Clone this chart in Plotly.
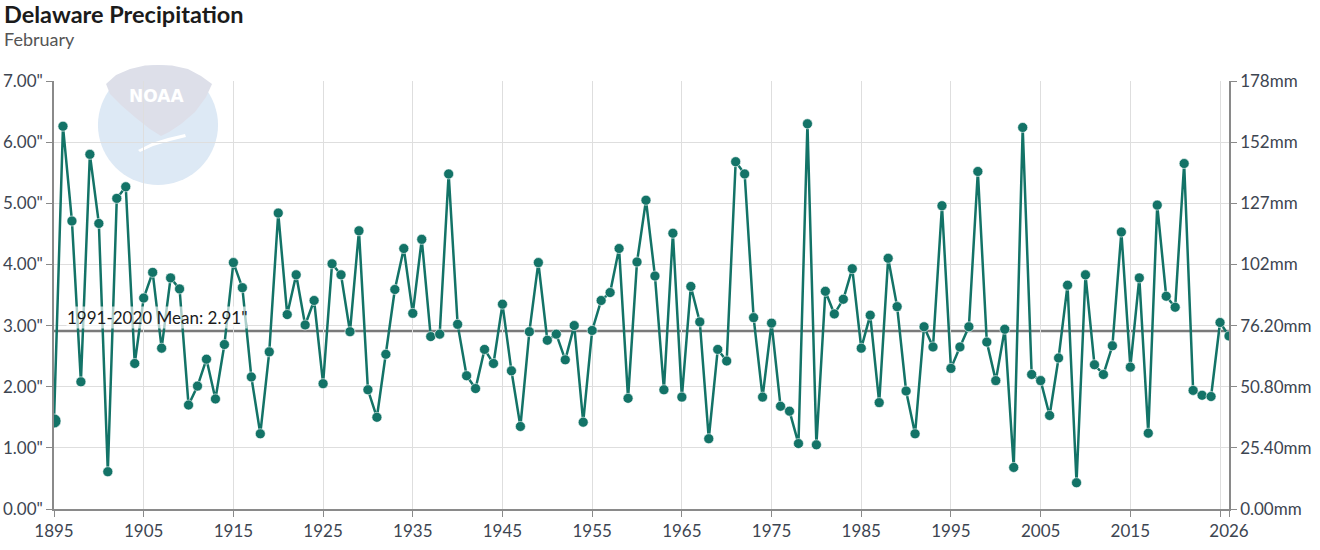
import math
import plotly.graph_objects as go

# February precipitation, Delaware (inches)
years = list(range(1895, 2027))
precip = [
    1.44, 6.26, 4.71, 2.08, 5.80, 4.67, 0.61, 5.08, 5.27, 2.38,
    3.45, 3.87, 2.63, 3.78, 3.60, 1.70, 2.01, 2.45, 1.80, 2.69,
    4.03, 3.62, 2.16, 1.23, 2.57, 4.84, 3.18, 3.83, 3.01, 3.41,
    2.05, 4.01, 3.83, 2.90, 4.55, 1.95, 1.50, 2.53, 3.59, 4.26,
    3.20, 4.41, 2.82, 2.86, 5.48, 3.02, 2.18, 1.97, 2.61, 2.38,
    3.35, 2.26, 1.35, 2.90, 4.03, 2.76, 2.86, 2.44, 3.00, 1.42,
    2.92, 3.41, 3.54, 4.26, 1.81, 4.04, 5.05, 3.81, 1.95, 4.51,
    1.83, 3.64, 3.06, 1.15, 2.61, 2.42, 5.68, 5.48, 3.13, 1.83,
    3.04, 1.68, 1.60, 1.07, 6.30, 1.05, 3.56, 3.19, 3.43, 3.93,
    2.63, 3.17, 1.74, 4.10, 3.31, 1.93, 1.23, 2.98, 2.65, 4.96,
    2.30, 2.65, 2.98, 5.52, 2.73, 2.10, 2.94, 0.68, 6.24, 2.20,
    2.10, 1.53, 2.47, 3.66, 0.43, 3.83, 2.36, 2.20, 2.67, 4.53,
    2.32, 3.78, 1.24, 4.97, 3.48, 3.30, 5.65, 1.94, 1.86, 1.84,
    3.05, 2.83,
]
mean_value = 2.91
mean_label = '1991-2020 Mean: 2.91"'

x_tickvals = list(range(1895, 2026, 10)) + [2026]
x_ticktext = [str(v) for v in range(1895, 2016, 10)] + ["", "2026"]
y_tickvals = [0, 1, 2, 3, 4, 5, 6, 7]
inch_ticktext = ['0.00"', '1.00"', '2.00"', '3.00"', '4.00"', '5.00"', '6.00"', '7.00"']
mm_ticktext = ["0.00mm", "25.40mm", "50.80mm", "76.20mm", "102mm", "127mm", "152mm", "178mm"]

LINE = "#137367"
AXIS = "#8a8a8a"
GRID = "#dedede"
TICK_FONT = dict(size=17, color="#3d4551")
FONT = "Lato, 'Source Sans Pro', sans-serif"

W, H = 1320, 550
M = dict(l=54, r=91, t=81, b=41)
PW = W - M["l"] - M["r"]
PH = H - M["t"] - M["b"]


def px(x, y):
    # page pixel -> paper fraction (watermark / titles only)
    return (x - M["l"]) / PW, (H - M["b"] - y) / PH


def path(points):
    out = []
    for i, (x, y) in enumerate(points):
        a, b = px(x, y)
        out.append(("M " if i == 0 else "L ") + f"{a:.4f},{b:.4f}")
    return " ".join(out) + " Z"


# NOAA watermark: disc, gull shape, white swoosh
disc = [(158 + 60 * math.cos(t * math.pi / 36), 125 + 60 * math.sin(t * math.pi / 36)) for t in range(72)]
gull = [(106, 84), (116, 75), (130, 69), (145, 65.5), (158, 65), (172, 65.5), (188, 69), (201, 76),
        (212, 84), (206, 97), (195, 112), (181, 124), (169, 132), (161, 136), (150, 129),
        (136, 118), (121, 105), (110, 94)]
swoosh = [(138, 150), (152, 143), (168, 138), (185, 134), (186, 137), (170, 141), (153, 146), (140, 152)]
shapes = [
    dict(type="path", xref="paper", yref="paper", layer="below",
         fillcolor="#dde9f5", line=dict(width=0), path=path(disc)),
    dict(type="path", xref="paper", yref="paper", layer="below",
         fillcolor="#dddfe9", line=dict(width=0), path=path(gull)),
    dict(type="path", xref="paper", yref="paper", layer="below",
         fillcolor="#ffffff", line=dict(width=0), path=path(swoosh)),
]

fig = go.Figure()

fig.add_trace(go.Scatter(
    x=years, y=precip, mode="lines+markers",
    line=dict(color=LINE, width=2.5),
    marker=dict(color=LINE, opacity=1, size=[14] + [10] * (len(years) - 1),
                line=dict(color="white", width=0.6)),
    showlegend=False,
    hovertemplate="%{x}: %{y:.2f}\"<extra></extra>",
))
# keeps the mm axis drawn
fig.add_trace(go.Scatter(x=[years[0]], y=[None], yaxis="y2", showlegend=False, hoverinfo="skip"))

tx, ty = px(4, 1)
sx, sy = px(4, 28)
nx, ny = px(156, 96)

axis_common = dict(
    zeroline=False, showline=True, linecolor=AXIS, linewidth=1.5,
    ticks="outside", ticklen=6, tickcolor=AXIS, tickfont=TICK_FONT, automargin=False,
)

fig.update_layout(
    width=W, height=H,
    margin=M,
    paper_bgcolor="white", plot_bgcolor="rgba(0,0,0,0)",
    font=dict(family=FONT, size=16, color="#3d4551"),
    xaxis=dict(range=[1895, 2026], tickvals=x_tickvals, ticktext=x_ticktext,
               showgrid=True, gridcolor=GRID, gridwidth=1, **axis_common),
    yaxis=dict(range=[0, 7], tickvals=y_tickvals, ticktext=inch_ticktext,
               showgrid=True, gridcolor=GRID, gridwidth=1, **axis_common),
    yaxis2=dict(range=[0, 7], overlaying="y", side="right",
                tickvals=y_tickvals, ticktext=mm_ticktext, showgrid=False, **axis_common),
    shapes=shapes,
    annotations=[
        dict(text="<b>Delaware Precipitation</b>", x=tx, y=ty, xref="paper", yref="paper",
             xanchor="left", yanchor="top", xshift=-2, yshift=3, showarrow=False,
             font=dict(size=23.5, color="#1b1b1b")),
        dict(text="February", x=sx, y=sy, xref="paper", yref="paper",
             xanchor="left", yanchor="top", xshift=-2, yshift=2, showarrow=False,
             font=dict(size=18, color="#555555")),
        dict(text=mean_label, x=1895, y=mean_value, xref="x", yref="y",
             xanchor="left", yanchor="bottom", xshift=12, yshift=2, showarrow=False,
             font=dict(size=17, color="#1b1b1b"), bgcolor="rgba(255,255,255,0.65)",
             borderpad=0),
        dict(text="<b>NOAA</b>", x=nx, y=ny, xref="paper", yref="paper",
             showarrow=False, font=dict(size=17, color="white", family="DejaVu Sans"),
             xanchor="center", yanchor="middle"),
    ],
)

# mean line added after the layout so it is not merged into the watermark shapes
fig.add_hline(y=mean_value, line=dict(color="#7a7a7a", width=2.5), layer="below")

fig.write_html("out.html", config={"displayModeBar": False},
               post_script="document.body.style.margin='0';")
